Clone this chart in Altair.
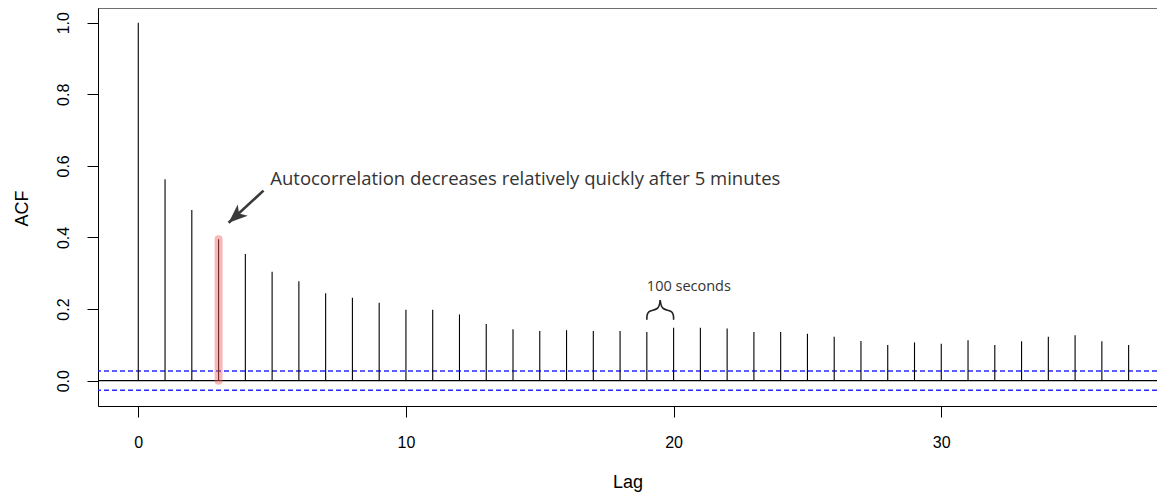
import altair as alt
import pandas as pd

# ---- data ----
lags = list(range(38))
acf_values = [1.0, 0.563, 0.477, 0.395, 0.354, 0.304, 0.278, 0.244, 0.232, 0.218,
              0.198, 0.198, 0.185, 0.158, 0.144, 0.139, 0.141, 0.139, 0.139, 0.136,
              0.148, 0.148, 0.146, 0.136, 0.136, 0.131, 0.123, 0.111, 0.100, 0.107,
              0.103, 0.113, 0.100, 0.110, 0.123, 0.127, 0.110, 0.100]
ci_bounds = [0.027, -0.027]
highlight_lag = [3]
x_ticks = [0, 10, 20, 30]
y_ticks = [0.0, 0.2, 0.4, 0.6, 0.8, 1.0]
x_domain = [-1.505, 38.06]
y_domain = [-0.0707, 1.041]

annotation_text = ["Autocorrelation decreases relatively quickly after 5 minutes"]
annotation_pos = {"lag": [4.93], "acf": [0.547]}
seconds_text = ["100 seconds"]
seconds_pos = {"lag": [19.0], "acf": [0.251]}
arrow_tail = {"lag": [4.68], "acf": [0.531]}
arrow_tip = {"lag": [3.375], "acf": [0.441]}
brace_lag = [19.0, 19.0, 19.45, 19.5, 20.0, 20.0, 19.55, 19.5]
brace_acf = [0.170, 0.197, 0.197, 0.225, 0.170, 0.197, 0.197, 0.225]
brace_half = ["L", "L", "L", "L", "R", "R", "R", "R"]
brace_order = [0, 1, 2, 3, 0, 1, 2, 3]

W, H = 1059, 398
FONT = "Liberation Sans"

spikes_df = pd.DataFrame({"lag": lags, "acf": acf_values})
ci_df = pd.DataFrame({"acf": ci_bounds})
hl_df = spikes_df[spikes_df["lag"].isin(highlight_lag)]
arrow_df = pd.DataFrame({"lag": arrow_tail["lag"], "acf": arrow_tail["acf"],
                         "lag2": arrow_tip["lag"], "acf2": arrow_tip["acf"]})
tip_df = pd.DataFrame(arrow_tip)
ann_df = pd.DataFrame({"lag": annotation_pos["lag"], "acf": annotation_pos["acf"], "t": annotation_text})
sec_df = pd.DataFrame({"lag": seconds_pos["lag"], "acf": seconds_pos["acf"], "t": seconds_text})
brace_df = pd.DataFrame({"lag": brace_lag, "acf": brace_acf, "half": brace_half, "o": brace_order})

xscale = alt.Scale(domain=x_domain, nice=False, zero=False)
yscale = alt.Scale(domain=y_domain, nice=False, zero=False)

xaxis = alt.Axis(values=x_ticks, title="Lag", grid=False, tickSize=11, tickColor="black",
                 tickWidth=1, domainColor="black", domainWidth=1, labelFont=FONT,
                 labelFontSize=16, labelColor="black", labelBaseline="alphabetic",
                 labelPadding=30, labelFlush=False, titleFont=FONT, titleFontSize=18,
                 titleFontWeight="normal", titleColor="black", titleBaseline="alphabetic",
                 titleY=81)
yaxis = alt.Axis(values=y_ticks, title="ACF", grid=False, tickSize=11, tickColor="black",
                 tickWidth=1, domainColor="black", domainWidth=1, labelFont=FONT,
                 labelFontSize=16, labelColor="black", labelAngle=270, labelAlign="center",
                 labelBaseline="alphabetic", labelPadding=19, labelFlush=False, format=".1f",
                 titleFont=FONT, titleFontSize=18, titleFontWeight="normal",
                 titleColor="black", titleAngle=270, titleAlign="center",
                 titleBaseline="alphabetic", titleX=-71, titleY=200)


def X(field="lag"):
    return alt.X(f"{field}:Q", scale=xscale, axis=xaxis)


def Y(field="acf"):
    return alt.Y(f"{field}:Q", scale=yscale, axis=yaxis)


ci = alt.Chart(ci_df).mark_rule(color="#2a2aff", strokeDash=[5, 3], strokeWidth=1.5).encode(y=Y())
zero = alt.Chart(pd.DataFrame({"acf": [0.0]})).mark_rule(color="black", strokeWidth=1.2).encode(y=Y())
spikes = alt.Chart(spikes_df).mark_rule(color="black", strokeWidth=1.1).encode(
    x=X(), y=Y(), y2=alt.datum(0))
highlight = alt.Chart(hl_df).mark_rule(color="#f26161", opacity=0.45, strokeWidth=8,
                                       strokeCap="round").encode(x=X(), y=Y(), y2=alt.datum(0))
shaft = alt.Chart(arrow_df).mark_rule(color="#3a3a3a", strokeWidth=2.6).encode(
    x=X(), y=Y(), x2="lag2:Q", y2="acf2:Q")
head = alt.Chart(tip_df).mark_point(
    shape="M0,0L-0.75,1.9L0,1.4L0.75,1.9Z", size=400, filled=True, color="#3a3a3a",
    opacity=1, angle=228, strokeWidth=0).encode(x=X(), y=Y())
ann = alt.Chart(ann_df).mark_text(font="Open Sans", fontSize=18.5, color="#333333",
                                  align="left", baseline="alphabetic").encode(
    x=X(), y=Y(), text="t:N")
sec = alt.Chart(sec_df).mark_text(font="Open Sans", fontSize=14.5, color="#333333",
                                  align="left", baseline="alphabetic").encode(
    x=X(), y=Y(), text="t:N")
brace = alt.Chart(brace_df).mark_line(color="#222222", strokeWidth=1.6, interpolate="basis").encode(
    x=X(), y=Y(), detail="half:N", order="o:Q")
top_frame = alt.Chart(pd.DataFrame({"acf": [0]})).mark_rule(color="black", strokeWidth=1).encode(
    x=alt.value(0), x2=alt.value(W), y=alt.value(0))

chart = alt.layer(ci, zero, spikes, highlight, shaft, head, ann, sec, brace, top_frame).properties(
    width=W, height=H,
    autosize=alt.AutoSizeParams(type="none"),
    padding={"left": 90, "top": 0, "right": 0, "bottom": 88},
).configure_view(stroke=None).configure(background="white")

chart.save("out.html", embed_options={"renderer": "svg", "actions": False})
